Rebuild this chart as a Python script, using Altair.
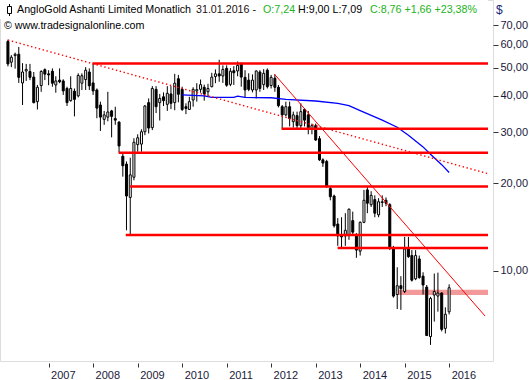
import altair as alt
import pandas as pd

# ---------------- data ----------------
months = pd.date_range("2006-02-01", periods=120, freq="MS").strftime("%Y-%m-%d").tolist()

opens = [61.5, 52.2, 55.0, 55.6, 44.3, 48.7, 48.5, 46.4, 38.2, 43.4, 49.2, 47.6,
         48.6, 43.6, 45.3, 45.0, 42.4, 38.5, 41.5, 40.0, 44.2, 45.5, 48.3, 44.3,
         41.9, 37.2, 33.2, 33.8, 35.5, 33.4, 32.5, 24.8, 23.3, 17.9, 21.0, 27.2,
         27.3, 30.1, 37.9, 31.1, 42.1, 37.9, 39.7, 37.4, 40.6, 37.9, 45.8, 42.1,
         36.7, 35.9, 38.7, 41.6, 42.1, 42.8, 41.3, 43.0, 46.6, 47.6, 46.8, 49.7,
         43.8, 48.8, 48.7, 51.5, 46.3, 45.3, 41.9, 41.9, 48.3, 43.7, 49.0, 43.4,
         46.0, 42.8, 36.7, 34.4, 36.7, 32.6, 34.2, 31.6, 35.9, 34.4, 30.8, 31.6,
         28.5, 24.1, 23.8, 19.2, 18.1, 14.5, 13.2, 13.2, 13.3, 14.9, 13.3, 11.7,
         14.7, 19.0, 16.9, 17.6, 15.6, 17.2, 17.5, 16.9, 12.0, 8.3, 8.9, 8.5,
         11.9, 11.3, 9.4, 11.0, 9.6, 8.8, 5.95, 8.27, 8.2, 8.4, 6.35, 7.24]
highs = [62.4, 55.2, 56.3, 58.9, 51.8, 51.5, 51.5, 48.3, 43.6, 49.0, 49.7, 49.0,
         49.7, 46.7, 49.7, 45.6, 43.0, 46.7, 42.4, 47.8, 47.8, 50.2, 49.7, 51.7,
         42.4, 38.2, 35.5, 41.3, 35.8, 36.7, 32.7, 25.4, 23.8, 24.5, 28.6, 29.5,
         30.7, 37.2, 39.2, 43.2, 43.2, 40.6, 41.1, 43.2, 43.2, 47.6, 47.2, 43.0,
         37.7, 39.7, 42.8, 44.2, 45.5, 43.7, 44.0, 48.0, 49.3, 53.2, 50.9, 50.9,
         49.8, 50.6, 52.5, 52.1, 49.0, 47.8, 47.4, 48.9, 49.0, 49.4, 49.7, 47.2,
         47.4, 43.6, 37.2, 38.2, 38.2, 35.3, 35.3, 37.7, 36.3, 35.5, 32.1, 32.1,
         29.1, 24.4, 24.1, 19.5, 18.3, 15.2, 15.3, 15.8, 16.4, 16.0, 13.5, 14.8,
         19.0, 19.5, 18.8, 18.2, 17.8, 18.2, 17.9, 17.1, 12.2, 10.3, 9.6, 13.1,
         13.1, 11.8, 11.8, 11.3, 9.9, 8.95, 8.15, 9.8, 9.87, 8.45, 7.5, 9.00]
lows = [50.5, 50.2, 49.6, 44.3, 37.2, 45.0, 45.3, 37.7, 35.9, 41.3, 45.3, 43.5,
        43.0, 41.0, 44.2, 40.3, 36.9, 38.2, 34.0, 39.5, 41.9, 41.9, 41.9, 40.3,
        33.5, 30.3, 31.8, 32.7, 28.8, 31.8, 25.5, 21.1, 13.8, 13.3, 20.5, 25.7,
        25.7, 29.3, 29.7, 30.5, 34.9, 32.9, 36.9, 35.5, 36.0, 35.7, 38.0, 35.5,
        34.6, 35.8, 36.7, 38.2, 41.0, 38.5, 39.7, 42.8, 44.2, 44.7, 44.3, 43.0,
        43.2, 43.6, 46.7, 43.0, 39.4, 41.5, 41.1, 39.2, 41.3, 41.9, 42.4, 42.4,
        41.3, 36.5, 30.8, 34.0, 31.4, 31.1, 31.0, 31.0, 31.4, 29.5, 29.5, 28.0,
        23.9, 22.8, 19.3, 17.5, 14.1, 12.2, 12.0, 12.2, 12.8, 13.3, 11.1, 11.3,
        14.6, 15.8, 16.6, 15.3, 15.3, 16.6, 16.7, 11.8, 8.1, 7.4, 7.35, 8.4,
        11.1, 9.2, 9.3, 9.4, 8.3, 5.98, 5.57, 6.7, 7.25, 6.2, 6.1, 7.09]
closes = [51.5, 54.3, 55.6, 46.3, 48.3, 49.3, 46.3, 37.9, 42.8, 48.5, 47.5, 47.2,
          44.2, 45.0, 44.7, 41.6, 37.9, 42.4, 38.9, 47.0, 46.9, 49.0, 43.3, 41.6,
          36.3, 33.8, 34.4, 35.2, 34.0, 33.0, 26.9, 23.0, 18.1, 21.4, 27.7, 28.7,
          30.1, 36.9, 31.0, 42.4, 36.7, 39.2, 38.5, 40.8, 37.7, 44.2, 40.5, 35.9,
          36.2, 38.2, 42.1, 42.0, 43.7, 40.6, 42.4, 46.4, 47.6, 46.8, 49.3, 43.5,
          48.6, 48.0, 50.9, 46.4, 41.9, 42.1, 45.3, 48.7, 42.4, 47.8, 43.0, 46.3,
          42.8, 37.0, 34.4, 36.7, 33.4, 34.4, 31.6, 35.3, 33.0, 31.1, 31.6, 28.2,
          24.1, 23.5, 19.6, 18.0, 14.3, 13.2, 13.1, 13.8, 16.3, 13.6, 11.8, 14.7,
          17.5, 17.1, 18.2, 15.8, 17.3, 17.3, 17.1, 12.0, 8.2, 8.9, 8.7, 11.9,
          11.2, 9.3, 11.3, 9.5, 8.95, 6.0, 8.05, 8.5, 8.4, 6.3, 7.1, 8.76]

# moving-average style blue line
blue_dates = ["2010-01-01", "2010-07-01", "2010-09-01", "2011-03-01", "2011-04-01",
              "2011-06-01", "2012-01-01", "2012-05-01", "2013-01-01", "2013-07-01",
              "2013-10-01", "2014-01-01", "2014-07-01", "2014-11-01", "2015-02-01",
              "2015-06-01", "2015-08-01", "2015-11-01", "2016-01-01"]
blue_vals = [40.3, 40.0, 39.5, 39.5, 39.9, 39.5, 39.4, 38.9, 38.4, 37.7,
             37.0, 35.6, 33.0, 31.2, 29.3, 26.7, 25.2, 23.2, 21.8]

# horizontal support / resistance lines
hline_start = ["2007-12-27", "2012-03-27", "2008-07-29", "2008-10-31", "2008-09-25", "2013-06-30"]
hline_level = [51.7, 30.8, 25.5, 19.5, 13.3, 12.0]
hline_end = "2016-11-15"

# pink zone
zone_start = ["2014-10-29"]
zone_low = [8.27]
zone_high = [8.62]

# dotted long-term trend line and thin down trend line
dotted_dates = ["2006-02-01", "2016-11-15"]
dotted_vals = [62.2, 21.6]
trend_dates = ["2012-01-28", "2016-10-22"]
trend_vals = [47.5, 7.0]

y_ticks = [10, 20, 30, 40, 50, 60, 70]
year_ticks = list(range(2007, 2017))

# ---------------- chart ----------------
FONT = "Liberation Sans"
GREEN = "#22b322"
LABEL = "#1a1a3a"

candles = pd.DataFrame({"date": months, "open": opens, "high": highs,
                        "low": lows, "close": closes})
blue = pd.DataFrame({"date": blue_dates, "v": blue_vals})
hl = pd.DataFrame({"start": hline_start, "end": [hline_end] * len(hline_start),
                   "level": hline_level})
zone = pd.DataFrame({"start": zone_start, "end": [hline_end], "lo": zone_low, "hi": zone_high})
dotted = pd.DataFrame({"date": dotted_dates, "v": dotted_vals})
trend = pd.DataFrame({"date": trend_dates, "v": trend_vals})

xscale = alt.Scale(type="utc",
                   domain=[alt.DateTime(year=2006, month=1, date=8, utc=True),
                           alt.DateTime(year=2016, month=11, date=15, utc=True)])
yscale = alt.Scale(type="log", domain=[4.905, 85.4], nice=False)

x_axis = alt.Axis(values=[alt.DateTime(year=y, month=1, date=1, utc=True) for y in year_ticks],
                  labelExpr="utcFormat(datum.value, '%Y')", labelAlign="left",
                  labelOffset=2, labelBaseline="top", labelPadding=2, tickSize=4, offset=2,
                  domain=False, grid=False, title=None, labelFont=FONT, labelFontSize=11,
                  labelColor=LABEL, tickColor="#333333", labelFlush=False,
                  labelOverlap=False)
y_axis = alt.Axis(orient="right", values=y_ticks,
                  labelExpr="replace(format(datum.value, '.2f'), '.', ',')",
                  tickSize=5, labelPadding=2, domain=False, grid=False, title=None,
                  labelFont=FONT, labelFontSize=11, labelColor=LABEL,
                  tickColor="#333333", labelFlush=False, labelOverlap=False)


def X(field):
    return alt.X(field, scale=xscale, axis=x_axis)


def Y(field):
    return alt.Y(field, scale=yscale, axis=y_axis)


base = alt.Chart(candles)

zone_layer = alt.Chart(zone).mark_rect(color="#f39494", opacity=0.95).encode(
    x=X("start:T"), x2="end:T", y=Y("lo:Q"), y2="hi:Q")

wicks = base.mark_rule(color="black", strokeWidth=1).encode(
    x=X("date:T"), y=Y("low:Q"), y2="high:Q")

bodies = base.mark_bar(size=2, stroke="black", strokeWidth=1).encode(
    x=X("date:T"), y=Y("open:Q"), y2="close:Q",
    fill=alt.condition("datum.close >= datum.open", alt.value("white"), alt.value("black")))

blue_layer = alt.Chart(blue).mark_line(color="#0000ff", strokeWidth=1.3).encode(
    x=X("date:T"), y=Y("v:Q"))

dotted_layer = alt.Chart(dotted).mark_line(color="#ff0000", strokeWidth=1.4,
                                           strokeDash=[1.4, 2.6]).encode(
    x=X("date:T"), y=Y("v:Q"))

trend_layer = alt.Chart(trend).mark_line(color="#ff0000", strokeWidth=1).encode(
    x=X("date:T"), y=Y("v:Q"))

hlines = alt.Chart(hl).mark_rule(color="#ff0000", strokeWidth=2.5).encode(
    x=X("start:T"), x2="end:T", y=Y("level:Q"))

one = alt.Data(values=[{}])

header_box = alt.Chart(one).mark_rect(fill="white").encode(
    x=alt.value(0), x2=alt.value(488), y=alt.value(0), y2=alt.value(19))

icon_rule = alt.Chart(one).mark_rule(color="black", strokeWidth=1).encode(
    x=alt.value(9.5), y=alt.value(4), y2=alt.value(16))
icon_box = alt.Chart(one).mark_rect(fill="white", stroke="black", strokeWidth=1).encode(
    x=alt.value(7.5), x2=alt.value(11.5), y=alt.value(6.5), y2=alt.value(13.5))


def txt(s, x, y, color="black", size=10.7, align="left"):
    return alt.Chart(one).mark_text(text=s, align=align, baseline="middle", font=FONT,
                                    fontSize=size, color=color).encode(
        x=alt.value(x), y=alt.value(y))


header = [
    txt("AngloGold Ashanti Limited Monatlich", 17, 10),
    txt("31.01.2016 -", 196, 10, "#221111"),
    txt("O:7,24", 263, 10, GREEN),
    txt("H:9,00 L:7,09", 298, 10),
    txt("C:8,76 +1,66 +23,38%", 370, 10, GREEN),
    txt("\u00a9 www.tradesignalonline.com", 4, 26),
    txt("$", 496, 10, "#1a2a7a", 12),
]

chart = alt.layer(
    zone_layer, wicks, bodies, blue_layer, dotted_layer, trend_layer, hlines,
    header_box, icon_rule, icon_box, *header
).properties(
    width=493, height=361,
    autosize=alt.AutoSizeParams(type="none"),
    padding={"left": 0, "top": 0, "right": 36, "bottom": 19},
).configure_view(
    stroke="#808080", fill="#f5f5f5"
).configure(background="white")

chart.save("out.html", embed_options={"renderer": "svg", "actions": False})
